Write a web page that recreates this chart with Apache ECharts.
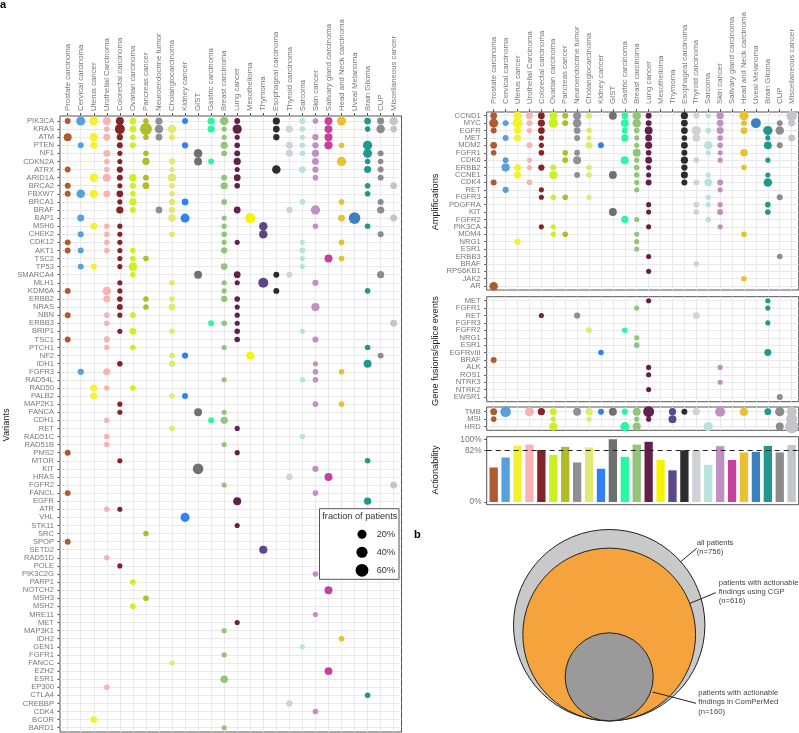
<!DOCTYPE html>
<html><head><meta charset="utf-8">
<style>html,body{margin:0;padding:0;background:#fff}#c{width:799px;height:733px}</style>
<script src="https://cdn.jsdelivr.net/npm/echarts@6/dist/echarts.min.js"></script>
</head><body><div id="c"></div>
<script>
const cancerTypes=["Prostate carcinoma","Cervical carcinoma","Uterus cancer","Urothelial Carcinoma","Colorectal carcinoma","Ovarian carcinoma","Pancreas cancer","Neuroendocrine tumor","Cholangiocarcinoma","Kidney cancer","GIST","Gastric carcinoma","Breast carcinoma","Lung cancer","Mesothelioma","Thymoma","Esophageal carcinoma","Thyroid carcinoma","Sarcoma","Skin cancer","Salivary gland carcinoma","Head and Neck carcinoma","Uveal Melanoma","Brain Glioma","CUP","Miscellaneous cancer"];
const cancerColors=["#B05A30","#56A0E0","#F2F230","#F8B4B4","#842428","#CCF020","#B0BC28","#909094","#E0EA70","#3080F8","#707070","#28F8A0","#94C47C","#64204C","#F5F500","#5C4888","#2C2C2C","#D0D2D6","#B8E2DE","#C090C4","#C8409C","#E8C030","#3C80C4","#209890","#8C8C8C","#C4C4CC"];
const variantGenes=["PIK3CA","KRAS","ATM","PTEN","NF1","CDKN2A","ATRX","ARID1A","BRCA2","FBXW7","BRCA1","BRAF","BAP1","MSH6","CHEK2","CDK12","AKT1","TSC2","TP53","SMARCA4","MLH1","KDM6A","ERBB2","NRAS","NBN","ERBB3","BRIP1","TSC1","PTCH1","NF2","IDH1","FGFR3","RAD54L","RAD50","PALB2","MAP2K1","FANCA","CDH1","RET","RAD51C","RAD51B","PMS2","MTOR","KIT","HRAS","FGFR2","FANCL","EGFR","ATR","VHL","STK11","SRC","SPOP","SETD2","RAD51D","POLE","PIK3C2G","PARP1","NOTCH2","MSH3","MSH2","MRE11","MET","MAP3K1","IDH2","GEN1","FGFR1","FANCC","EZH2","ESR1","EP300","CTLA4","CREBBP","CDK4","BCOR","BARD1"];
const variantValues=[
{0:3,1:20,2:20,3:12,4:12,5:6,6:2,7:8,9:3,11:8,12:16,13:3,16:8,18:3,19:2,20:12,21:20,23:6,24:7,25:14},
{3:2,4:28,5:6,6:50,7:16,8:16,11:8,12:1,13:22,16:6,17:8,18:2,20:12,23:2,24:16,25:6},
{0:12,2:16,3:7,4:4,5:2,6:2,7:6,8:3,12:1,13:1,16:4,18:1,19:4,20:12},
{1:3,2:8,4:3,5:3,9:4,12:8,13:2,17:8,18:2,19:4,20:14,21:2,23:22},
{3:7,4:1,6:2,10:16,12:3,13:3,17:8,18:2,19:8,23:20,24:3},
{3:2,4:1,6:8,8:4,10:12,11:3,13:8,19:6,21:22,23:2,24:2},
{0:3,3:2,4:4,8:1,13:1,16:16,18:6,19:4,23:7,24:3},
{2:14,3:12,4:3,5:8,6:3,8:14,12:3,13:6,19:2,24:3},
{0:3,4:1,5:3,6:6,8:2,12:8,13:2,23:2,25:6},
{0:3,1:16,2:14,3:6,4:6,5:2,8:2,23:2},
{4:1,5:8,8:4,9:6,12:2,18:2,21:2,24:3},
{4:8,5:3,7:6,8:4,13:6,17:4,19:22,24:8},
{1:7,8:10,9:20,12:1,14:30,21:6,22:45,25:7},
{2:7,3:2,4:1,12:1,15:16,19:2,23:2},
{1:3,3:2,4:1,8:2,12:2,15:16,24:3},
{0:3,3:2,4:1,12:1,13:1,18:1,21:2},
{0:3,1:3,3:2,4:1,5:2,12:4,18:3},
{4:1,5:2,6:2,18:1,20:12,21:2},
{1:3,2:4,4:1,5:16,12:6,18:1},
{5:2,10:12,13:6,16:3,17:3,24:8},
{4:1,8:2,12:1,13:1,15:28,19:4},
{0:3,3:16,4:1,12:1,16:3,23:2},
{3:7,4:2,6:2,8:2,12:4,13:2},
{4:3,6:2,8:6,13:1,19:14},
{0:3,3:2,4:1,5:2,13:1},
{3:2,11:3,12:2,13:1,25:7},
{4:1,5:6,8:2,13:2,18:1},
{0:3,3:4,13:2,19:3},
{3:2,5:2,12:1,23:2},
{8:2,9:4,14:12,24:3},
{4:2,8:4,19:1,23:12},
{1:4,3:8,19:2,21:2},
{12:1,18:2,19:2},
{2:7,3:2,5:2},
{2:7,8:2,9:3},
{4:1,19:2,21:2},
{4:1,10:12,12:1},
{3:2,11:3,12:8},
{8:2,13:1},
{3:2,18:2},
{3:2,12:1},
{0:3,13:1},
{4:1,23:2},
{10:34,19:4},
{17:4,20:12},
{12:1,25:6},
{0:3,19:2},
{13:12,23:8},
{3:2,4:1},
{9:20},{13:1},{6:2},{0:3},{15:14},{3:2},{4:1},{19:2},{5:2},{20:12},{6:2},{5:2},{19:1},{13:1},{12:1},{21:2},{18:1},{12:1},{8:1},{20:12},{12:10},{3:2},{23:2},{17:4},{19:2},{2:6},{12:1}
];
const ampGenes=["CCND1","MYC","EGFR","MET","MDM2","FGFR1","CDK6","ERBB2","CCNE1","CDK4","RET","FGFR3","PDGFRA","KIT","FGFR2","PIK3CA","MDM4","NRG1","ESR1","ERBB3","BRAF","RPS6KB1","JAK2","AR"];
const ampValues=[
{0:6,2:16,3:6,4:6,5:12,6:3,7:12,8:3,10:12,11:6,12:16,13:3,16:8,17:3,18:1,19:8,21:22,25:34},
{0:20,1:3,2:28,3:3,4:8,5:22,6:3,7:16,11:12,12:16,13:3,16:6,19:6,21:3,22:28,24:3,25:7},
{0:3,2:8,3:1,4:6,7:6,8:2,11:3,12:2,13:12,16:6,17:22,18:2,19:7,21:6,23:22,24:16},
{1:3,2:7,4:1,7:3,8:1,11:8,12:1,13:6,16:2,17:10,19:2,23:1,25:6},
{0:6,3:3,4:1,8:6,9:3,12:1,13:8,16:6,18:16,19:2,23:12,24:3},
{0:2,4:2,6:2,7:3,12:12,13:2,16:3,18:1,19:1,21:10},
{1:3,3:1,6:2,7:12,11:12,12:1,13:6,16:8,17:2,19:1,23:1},
{1:14,2:6,3:1,4:4,5:3,8:2,12:2,13:1,16:4,21:2},
{2:7,5:14,7:3,8:2,10:12,12:2,13:1,16:7,18:1,23:1},
{0:3,3:2,12:1,13:3,16:3,17:3,18:10,19:3,23:16},
{1:4,4:1,12:1,19:1},
{4:1,5:2,6:2,8:1,18:1,24:3},
{13:1,17:2,18:1,19:1,23:2},
{10:12,13:1,17:2,19:3,23:2},
{11:8,12:1,18:2},
{4:1,5:1,13:1,19:1},
{5:1,6:2,12:1,21:2},
{2:4,12:1},
{12:1},
{13:1,24:2},
{17:2},
{13:1},
{21:2},
{0:16}
];
const fusionGenes=["MET","FGFR1","RET","FGFR3","FGFR2","NRG1","ESR1","EGFRvIII","BRAF","ALK","ROS1","NTRK3","NTRK2","EWSR1"];
const fusionValues=[
{13:1,23:1},{12:1,23:1},{4:1,7:4,17:6},{23:1},{8:3,11:2},{12:1},{12:2},{9:2,23:7},{0:3},{13:1,19:1},{13:1},{19:1},{13:1},{24:3}
];
const biomarkerNames=["TMB","MSI","HRD"];
const biomarkerValues=[
{0:6,1:34,3:20,4:8,5:6,7:12,8:8,9:3,10:12,11:4,12:12,13:38,15:8,16:3,17:8,19:28,21:16,23:6,24:22,25:28},
{0:2,5:1,8:1,12:1,13:1,15:12,25:40},
{5:14,11:20,12:14,18:22,24:12,25:68}
];
const actionabilityValues=[55,71,90,91.5,83,75,88,63,87,53,100,72,91.5,96,67,50.5,82.5,82.5,59.5,89,67,79,80,89.5,79,91];
const actionabilityTicks=[0,100,82];
const actionabilityMedian=82;
const legendFractions=[20,40,60];
const vennLabels=["all patients","CGP","ComPerMed"];
const vennCounts=[756,616,160];
const vennColors=["#C9C9C9","#F5A33C","#9A9A9A"];

const dotSize=p=>4+1.13*Math.sqrt(p);
const labelColor="#777";
const frame="#555";
const colIdx=cancerTypes.map((_,i)=>i);
const font="Liberation Sans";
const flat=rows=>{const o=[];rows.forEach((r,y)=>Object.keys(r).forEach(k=>o.push([+k,y,r[k]])));return o;};
const idx=a=>a.map((_,i)=>i);
// Order rows so that neighbours in the list are never adjacent: the axis only tests the first and last two labels for overlap.
// The three-row panel gets an extra blank label above the rows for the same reason.
const spread=a=>{const i=idx(a);return i.length<4?[0,2,1,-0.6]:[...i.filter(v=>v%2==0),...i.filter(v=>v%2==1)];};

const panels=[
 {left:60,top:116,w:341.5,h:616,x:[-0.59,25.6],y:[-0.62,75.53],rows:variantGenes,vals:variantValues,head:true,margin:5},
 {left:486.7,top:112,w:312,h:178,x:[-0.587,25.59],y:[-0.5,23.52],rows:ampGenes,vals:ampValues,head:true,margin:8},
 {left:486.7,top:296.7,w:312,h:105,x:[-0.587,25.59],y:[-0.54,13.63],rows:fusionGenes,vals:fusionValues},
 {left:486.7,top:407,w:312,h:23.3,x:[-0.587,25.59],y:[-0.63,2.5],rows:biomarkerNames,vals:biomarkerValues}
];
const grid=[],xAxis=[],yAxis=[],series=[];
panels.forEach((p,i)=>{
 grid.push({show:true,left:p.left,top:p.top,width:p.w,height:p.h,backgroundColor:"#fff",borderColor:frame,borderWidth:1,containLabel:false});
 xAxis.push({type:"value",gridIndex:i,position:"top",min:p.x[0],max:p.x[1],
  axisLine:{show:false,onZero:false},
  axisTick:p.head?{show:true,length:3,customValues:colIdx,lineStyle:{color:frame,width:1}}:{show:false},
  axisLabel:p.head?{show:true,rotate:-90,customValues:colIdx,formatter:v=>cancerTypes[v],color:labelColor,fontSize:7.8,fontFamily:font,margin:p.margin,padding:[0,0,4,0],hideOverlap:false,showMinLabel:true,showMaxLabel:true}:{show:false},
  splitLine:{show:false}});
 yAxis.push({type:"value",gridIndex:i,inverse:true,min:p.y[0],max:p.y[1],
  axisLine:{show:false,onZero:false},
  axisTick:{show:true,length:2.5,customValues:idx(p.rows),lineStyle:{color:frame,width:1}},
  axisLabel:{show:true,customValues:spread(p.rows),formatter:v=>p.rows[v]||"",color:labelColor,fontSize:7.6,fontFamily:font,margin:6,hideOverlap:false,showMinLabel:true,showMaxLabel:true},
  splitLine:{show:false}});
 series.push({type:"scatter",z:3,xAxisIndex:i,yAxisIndex:i,data:flat(p.vals),symbolSize:v=>dotSize(v[2]),
  itemStyle:{color:q=>cancerColors[q.data[0]],opacity:1},silent:true,animation:false,
  markLine:{z:1,silent:true,symbol:"none",animation:false,label:{show:false},emphasis:{disabled:true},precision:6,
   lineStyle:{color:"#E9E9E9",type:"solid",width:1},
   data:[...colIdx.map(c=>({xAxis:c})),...idx(p.rows).map(r=>({yAxis:r}))]}});
});
// Actionability bars
grid.push({show:true,left:486.7,top:436.7,width:312,height:68,borderColor:frame,borderWidth:1,backgroundColor:"#fff"});
xAxis.push({type:"value",gridIndex:4,min:-0.587,max:25.59,axisLine:{show:false,onZero:false},axisTick:{show:false},axisLabel:{show:false},splitLine:{show:false}});
yAxis.push({type:"value",gridIndex:4,min:-4.3,max:104.1,axisLine:{show:false,onZero:false},
 axisTick:{show:true,length:2.5,customValues:actionabilityTicks,lineStyle:{color:frame}},
 axisLabel:{show:true,customValues:actionabilityTicks,formatter:v=>v+"%",color:labelColor,fontSize:8.4,fontFamily:font,margin:5,showMinLabel:true,showMaxLabel:true},
 splitLine:{show:false}});
series.push({type:"bar",z:3,xAxisIndex:4,yAxisIndex:4,barWidth:8.3,silent:true,animation:false,
 data:actionabilityValues.map((v,i)=>({value:[i,v],itemStyle:{color:cancerColors[i]}})),
 markLine:{z:5,silent:true,symbol:"none",animation:false,label:{show:false},emphasis:{disabled:true},lineStyle:{color:"#222",type:[5,4],width:1},data:[{yAxis:actionabilityMedian}]}});
// Panel b: nested circles with area proportional to n, tangent at the bottom
const rootMax=Math.sqrt(vennCounts[0]);
const vennH=191.4,k=vennH/(2*rootMax);
grid.push({show:false,left:513.5,top:529.5,width:vennH,height:vennH});
xAxis.push({type:"value",gridIndex:5,show:false,min:-rootMax,max:rootMax,splitLine:{show:false}});
yAxis.push({type:"value",gridIndex:5,show:false,min:0,max:2*rootMax,splitLine:{show:false}});
series.push({type:"scatter",xAxisIndex:5,yAxisIndex:5,clip:false,silent:true,animation:false,
 data:vennCounts.map((n,i)=>({value:[0,Math.sqrt(n)],symbolSize:2*Math.sqrt(n)*k,itemStyle:{color:vennColors[i],borderColor:"#222",borderWidth:1,opacity:1}}))});

const T=(text,x,y,o={})=>({type:"text",z:100,x,y,silent:true,style:{text,fill:o.fill||"#444",font:(o.weight||"normal")+" "+(o.size||7.7)+"px '"+font+"'",textAlign:o.align||"left",textVerticalAlign:"middle"},rotation:o.rot||0});
const L=(x1,y1,x2,y2)=>({type:"line",z:100,silent:true,shape:{x1,y1,x2,y2},style:{stroke:"#222",lineWidth:1}});
const R=Math.PI/2;
const graphic=[
 T("a",0,5,{weight:"bold",size:11,fill:"#000"}),
 T("b",414,535,{weight:"bold",size:11,fill:"#000"}),
 T("Variants",6,425,{size:9.2,rot:R,align:"center",fill:"#222"}),
 T("Amplifications",435,202,{size:9.2,rot:R,align:"center",fill:"#222"}),
 T("Gene fusions/splice events",435,351,{size:9.2,rot:R,align:"center",fill:"#222"}),
 T("Actionability",435,470,{size:9.2,rot:R,align:"center",fill:"#222"}),
 {type:"rect",z:99,silent:true,shape:{x:319.5,y:508.7,width:79.5,height:70.6},style:{fill:"#fff",stroke:frame,lineWidth:1}},
 T("fraction of patients",322.3,516,{size:9.2,fill:"#333"}),
 ...legendFractions.flatMap((f,i)=>[
  {type:"circle",z:100,silent:true,shape:{cx:362,cy:534.3+18*i,r:dotSize(f)/2},style:{fill:"#000"}},
  T(f+"%",376.7,534.3+18*i,{size:9.2,fill:"#333"})]),
 L(680.7,561.7,696.7,548.3),L(690,603.3,715.7,592.7),L(652.7,692,696,703.3),
 T("all patients",696.7,543),T("(n=756)",696.7,552.3),
 T("patients with actionable",718.7,582.7),T("findings using CGP",718.7,592),T("(n=616)",718.7,601.3),
 T("patients with actionable",698.3,693.3),T("findings in ComPerMed",698.3,702.3),T("(n=160)",698.3,711.7)
];
const chart=echarts.init(document.getElementById("c"),null,{renderer:"canvas"});
chart.setOption({animation:false,backgroundColor:"#fff",textStyle:{fontFamily:font},grid,xAxis,yAxis,series,graphic});
</script></body></html>
